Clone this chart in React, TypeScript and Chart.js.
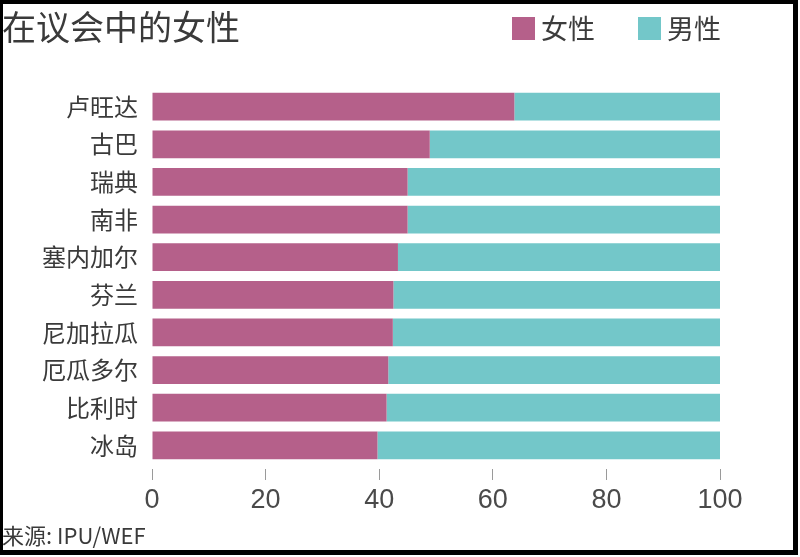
import React, { useEffect, useRef } from "react";
import { Chart, registerables } from "chart.js";

Chart.register(...registerables);

const titleText = "在议会中的女性";
const sourceText = "来源: IPU/WEF";
const countries = ["卢旺达", "古巴", "瑞典", "南非", "塞内加尔", "芬兰", "尼加拉瓜", "厄瓜多尔", "比利时", "冰岛"];
const seriesNames = ["女性", "男性"];
const women = [63.8, 48.9, 45.0, 45.0, 43.3, 42.5, 42.4, 41.6, 41.3, 39.7];
const men = [36.2, 51.1, 55.0, 55.0, 56.7, 57.5, 57.6, 58.4, 58.7, 60.3];
const xTicks = [0, 20, 40, 60, 80, 100];

const PINK = "#b5608a";
const TEAL = "#73c7c9";
const CJK = "'Noto Sans CJK SC', 'Noto Sans', sans-serif";
const NUM = "'Liberation Sans', 'Noto Sans CJK SC', sans-serif";

const framePlugin = {
  id: "frame",
  beforeDraw(chart: any) {
    const { ctx, width, height } = chart;
    ctx.save();
    ctx.fillStyle = "#ffffff";
    ctx.fillRect(0, 0, width, height);
    ctx.fillStyle = "#000000";
    ctx.fillRect(0, 0, 798, 4);
    ctx.fillRect(0, 0, 3, 555);
    ctx.fillRect(793, 0, 5, 555);
    ctx.fillRect(0, 550, 798, 5);
    ctx.restore();
  },
};

const legendPlugin = {
  id: "customLegend",
  afterDraw(chart: any) {
    const { ctx } = chart;
    const boxX = [512, 638];
    ctx.save();
    ctx.font = `27px ${CJK}`;
    ctx.textBaseline = "middle";
    ctx.textAlign = "left";
    chart.data.datasets.forEach((ds: any, i: number) => {
      ctx.fillStyle = ds.backgroundColor;
      ctx.fillRect(boxX[i], 17, 23, 23);
      ctx.fillStyle = "#3c3c3c";
      ctx.fillText(ds.label, boxX[i] + 29, 29);
    });
    ctx.restore();
  },
};

export default function App() {
  const ref = useRef<HTMLCanvasElement>(null);
  useEffect(() => {
    if (!ref.current) return;
    const chart = new Chart(ref.current, {
      type: "bar",
      data: {
        labels: countries,
        datasets: [
          { label: seriesNames[0], data: women, backgroundColor: PINK, barPercentage: 1, categoryPercentage: 0.737 },
          { label: seriesNames[1], data: men, backgroundColor: TEAL, barPercentage: 1, categoryPercentage: 0.737 },
        ],
      },
      options: {
        indexAxis: "y",
        responsive: false,
        animation: false,
        layout: { padding: { left: 2, right: 80, top: 4, bottom: 8 } },
        plugins: {
          legend: { display: false },
          tooltip: { enabled: false },
          title: {
            display: true,
            text: titleText,
            align: "start",
            color: "#3a3a3a",
            font: { family: CJK, size: 34, weight: "normal" },
            padding: { top: 3, bottom: 40 },
          },
          subtitle: {
            display: true,
            text: sourceText,
            position: "bottom",
            align: "start",
            color: "#3a3a3a",
            font: { family: CJK, size: 22, weight: "normal" },
            padding: { top: 2, bottom: 0 },
          },
        },
        scales: {
          x: {
            stacked: true,
            min: 0,
            max: 100,
            afterBuildTicks: (scale: any) => {
              scale.ticks = xTicks.map((v) => ({ value: v }));
            },
            grid: {
              display: true,
              drawOnChartArea: false,
              drawTicks: true,
              tickLength: 16,
              tickColor: "#9a9a9a",
              tickWidth: 1,
              tickBorderDash: [0, 5, 11, 100],
            },
            border: { display: false },
            ticks: {
              color: "#4a4a4a",
              font: { family: NUM, size: 27 },
              padding: 4,
              maxRotation: 0,
            },
          },
          y: {
            stacked: true,
            grid: { display: false, drawTicks: false },
            border: { display: false },
            afterFit: (scale: any) => {
              scale.width = 150;
            },
            ticks: {
              color: "#3a3a3a",
              font: { family: CJK, size: 24 },
              padding: 14,
            },
          },
        },
      },
      plugins: [framePlugin, legendPlugin],
    });
    return () => chart.destroy();
  }, []);
  return (
    <div style={{ position: "fixed", left: 0, top: 0, width: 800, height: 557 }}>
      <canvas ref={ref} width={800} height={557} />
    </div>
  );
}
